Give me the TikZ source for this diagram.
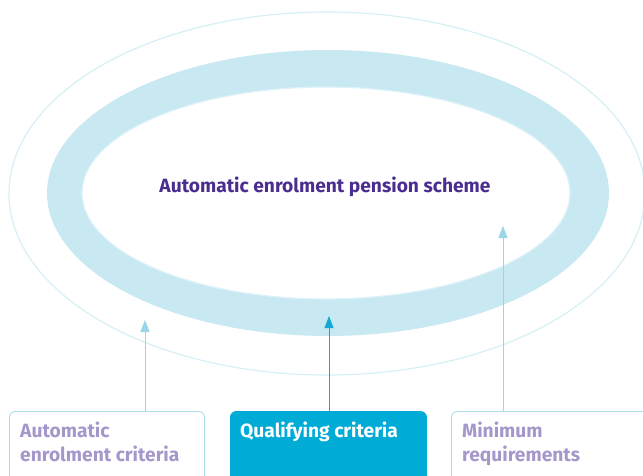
\documentclass[tikz,border=0pt]{standalone}
\usepackage{fontspec}
\setmainfont{Fira Sans}
\usetikzlibrary{arrows.meta}
\definecolor{ring}{HTML}{C8E9F2}
\definecolor{ringedge}{HTML}{DDF2F8}
\definecolor{outerline}{HTML}{D6EFF6}
\definecolor{titlecol}{HTML}{4A2D8F}
\definecolor{lav}{HTML}{A697CB}
\definecolor{boxline}{HTML}{A9DDED}
\definecolor{qual}{HTML}{00ABD5}
\definecolor{arrlight}{HTML}{98D6E8}
\definecolor{arrdark}{HTML}{14A9D4}
\tikzset{
  box/.style={draw=boxline, line width=0.9pt, rounded corners=6pt, minimum height=90pt, anchor=north west, inner sep=0pt},
  lbl/.style={anchor=north west, align=left, inner sep=0pt, font=\bfseries\fontsize{19.2}{24}\selectfont},
  arr/.style={line width=0.9pt, -{Triangle[length=12pt,width=9pt]}},
}
\begin{document}
\begin{tikzpicture}[x=1pt,y=-1pt]
\useasboundingbox (0,0) rectangle (643,476);
\begin{scope}
\clip (0,0) rectangle (643,476);
% outer thin ellipse
\draw[outerline, line width=1.2pt] (327,193.5) ellipse [x radius=318, y radius=181.5];
% ring
\fill[ring, even odd rule] (328,193) ellipse [x radius=281, y radius=143]
  (326,193) ellipse [x radius=244, y radius=106];
\draw[ringedge, line width=1.2pt] (326,193) ellipse [x radius=244, y radius=106];
\node[font=\bfseries\fontsize{19.2}{22}\selectfont, text=titlecol, anchor=base] (scheme) at (325,193) {Automatic enrolment pension scheme};
% boxes
\node[box, minimum width=195pt] (autobox) at (9,411) {};
\node[box, minimum width=196pt, fill=qual, draw=qual] (qualbox) at (230,411) {};
\node[box, minimum width=200pt] (minbox) at (451,411) {};
\node[lbl, text=lav] (autotxt) at ([xshift=11pt,yshift=-11pt]autobox.north west) {Automatic\\enrolment criteria};
\node[lbl, text=white] (qualtxt) at ([xshift=10pt,yshift=-11pt]qualbox.north west) {Qualifying criteria};
\node[lbl, text=lav] (mintxt) at ([xshift=11pt,yshift=-11pt]minbox.north west) {Minimum\\requirements};
% arrows
\coordinate (a1) at (145,320);
\coordinate (a2) at (329,316);
\coordinate (a3) at (503,226);
\draw[arr, arrlight] (autobox.north -| a1) -- (a1);
\draw[arr, arrdark] (qualbox.north -| a2) -- (a2);
\draw[arr, arrlight] (minbox.north -| a3) -- (a3);
\end{scope}
\end{tikzpicture}
\end{document}
